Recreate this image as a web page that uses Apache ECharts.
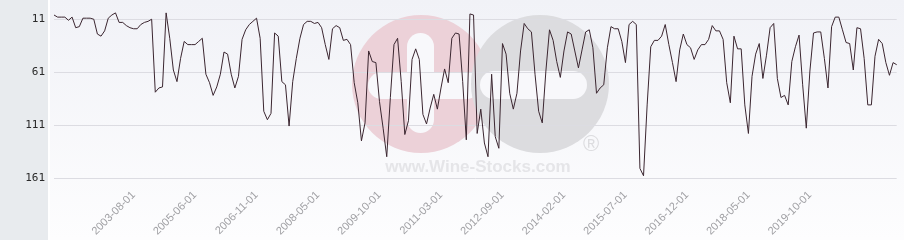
<!DOCTYPE html>
<html><head><meta charset="utf-8">
<script src="https://cdn.jsdelivr.net/npm/echarts@6/dist/echarts.min.js"></script>
<style>html,body{margin:0;padding:0;background:#fff}#c{width:904px;height:240px}</style>
</head><body><div id="c"></div>
<script>
const categories = [
'2001-10-01','2001-11-01','2001-12-01',
'2002-01-01','2002-02-01','2002-03-01','2002-04-01','2002-05-01','2002-06-01','2002-07-01','2002-08-01','2002-09-01','2002-10-01','2002-11-01','2002-12-01',
'2003-01-01','2003-02-01','2003-03-01','2003-04-01','2003-05-01','2003-06-01','2003-07-01','2003-08-01','2003-09-01','2003-10-01','2003-11-01',
'2004-01-01','2004-02-01','2004-04-01','2004-05-01','2004-07-01','2004-08-01','2004-10-01','2004-11-01',
'2005-01-01','2005-02-01','2005-03-01','2005-04-01','2005-05-01','2005-06-01','2005-07-01','2005-08-01','2005-09-01','2005-10-01','2005-11-01','2005-12-01',
'2006-01-01','2006-02-01','2006-03-01','2006-04-01','2006-05-01','2006-06-01','2006-07-01','2006-08-01','2006-09-01','2006-10-01','2006-11-01','2006-12-01',
'2007-01-01','2007-02-01','2007-03-01','2007-04-01','2007-05-01','2007-06-01','2007-07-01','2007-09-01','2007-10-01','2007-11-01','2007-12-01',
'2008-01-01','2008-02-01','2008-03-01','2008-04-01','2008-05-01','2008-06-01','2008-07-01','2008-08-01','2008-09-01','2008-10-01','2008-11-01','2008-12-01',
'2009-01-01','2009-02-01','2009-03-01','2009-04-01','2009-05-01','2009-06-01','2009-07-01','2009-08-01','2009-09-01','2009-10-01','2009-11-01','2009-12-01',
'2010-01-01','2010-02-01','2010-03-01','2010-04-01','2010-05-01','2010-06-01','2010-07-01','2010-08-01','2010-09-01','2010-10-01','2010-11-01','2010-12-01',
'2011-01-01','2011-02-01','2011-03-01','2011-04-01','2011-05-01','2011-06-01','2011-07-01','2011-08-01','2011-09-01','2011-10-01','2011-11-01',
'2012-01-01','2012-02-01','2012-03-01','2012-04-01','2012-05-01','2012-06-01','2012-07-01','2012-08-01','2012-09-01','2012-10-01','2012-11-01','2012-12-01',
'2013-01-01','2013-02-01','2013-03-01','2013-04-01','2013-05-01','2013-06-01','2013-07-01','2013-08-01','2013-09-01','2013-10-01','2013-11-01','2013-12-01',
'2014-01-01','2014-02-01','2014-03-01','2014-04-01','2014-05-01','2014-06-01','2014-07-01','2014-08-01','2014-09-01','2014-10-01','2014-11-01','2014-12-01',
'2015-01-01','2015-02-01','2015-03-01','2015-04-01','2015-05-01','2015-06-01','2015-07-01','2015-08-01','2015-09-01','2015-10-01','2015-11-01','2015-12-01',
'2016-01-01','2016-02-01','2016-03-01','2016-04-01','2016-05-01','2016-06-01','2016-07-01','2016-08-01','2016-09-01','2016-10-01','2016-11-01','2016-12-01',
'2017-01-01','2017-02-01','2017-03-01','2017-04-01','2017-05-01','2017-06-01','2017-07-01','2017-08-01','2017-09-01','2017-10-01','2017-11-01','2017-12-01',
'2018-01-01','2018-02-01','2018-03-01','2018-04-01','2018-05-01','2018-06-01','2018-07-01','2018-08-01','2018-09-01','2018-10-01','2018-11-01','2018-12-01',
'2019-01-01','2019-02-01','2019-03-01','2019-04-01','2019-05-01','2019-06-01','2019-07-01','2019-08-01','2019-09-01','2019-10-01','2019-11-01','2019-12-01',
'2020-01-01','2020-02-01','2020-03-01','2020-04-01','2020-05-01','2020-06-01','2020-07-01','2020-08-01','2020-09-01','2020-10-01','2020-11-01','2020-12-01',
'2021-01-01','2021-02-01','2021-03-01','2021-04-01','2021-05-01','2021-06-01','2021-07-01','2021-08-01','2021-09-01','2021-10-01'
];

const rankValues = [
7, 9, 9, 9, 12, 9, 19, 18, 10, 10,
10, 11, 25, 27, 22, 10, 7, 5, 14, 14,
17, 19, 20, 20, 16, 14, 13, 11, 80, 76,
75, 5, 29, 59, 70, 48, 32, 35, 35, 35,
32, 29, 63, 71, 83, 75, 63, 42, 44, 63,
76, 65, 30, 21, 16, 13, 10, 29, 98, 106,
100, 24, 27, 70, 73, 112, 70, 48, 29, 16,
13, 13, 15, 14, 19, 35, 49, 20, 17, 19,
31, 30, 35, 71, 90, 126, 109, 41, 51, 52,
89, 114, 141, 85, 35, 29, 70, 120, 107, 49,
39, 49, 101, 110, 95, 82, 96, 76, 58, 71,
29, 24, 25, 70, 125, 6, 7, 119, 96, 128,
141, 63, 122, 133, 34, 44, 81, 96, 81, 41,
15, 20, 23, 63, 98, 109, 60, 21, 31, 51,
66, 41, 23, 25, 41, 57, 40, 23, 21, 38,
81, 76, 73, 38, 18, 20, 20, 32, 52, 16,
13, 16, 152, 159, 92, 37, 31, 31, 27, 16,
35, 52, 70, 40, 25, 35, 38, 49, 40, 35,
35, 30, 17, 22, 22, 30, 71, 90, 27, 39,
39, 92, 119, 65, 44, 34, 67, 45, 19, 15,
67, 85, 83, 92, 51, 37, 26, 73, 114, 60,
24, 23, 23, 48, 76, 18, 9, 9, 21, 33,
34, 59, 19, 20, 48, 92, 92, 46, 30, 34,
52, 64, 52, 54
];

const yTickValues = [11, 61, 111, 161];
const xTickLabels = ['2003-08-01','2005-06-01','2006-11-01','2008-05-01','2009-10-01','2011-03-01',
  '2012-09-01','2014-02-01','2015-07-01','2016-12-01','2018-05-01','2019-10-01'];
const watermarkText = 'www.Wine-Stocks.com';

const chart = echarts.init(document.getElementById('c'), null, {renderer: 'canvas'});
chart.setOption({
  animation: false,
  graphic: [
    {type: 'rect', z: -20, silent: true, shape: {x: 0, y: 0, width: 48, height: 240}, style: {fill: '#e8ebee'}},
    {type: 'rect', z: -20, silent: true, shape: {x: 50, y: 0, width: 854, height: 240},
      style: {fill: new echarts.graphic.LinearGradient(0, 0, 0, 1, [
        {offset: 0, color: '#f1f2f7'}, {offset: 1, color: '#fdfdfe'}])}},
    {type: 'circle', z: -10, silent: true, shape: {cx: 421, cy: 84, r: 69}, style: {fill: '#ecd1d8'}},
    {type: 'rect', z: -9, silent: true, shape: {x: 368, y: 72, width: 112, height: 27, r: 13.5}, style: {fill: '#f8f8fb'}},
    {type: 'rect', z: -9, silent: true, shape: {x: 407, y: 33, width: 27, height: 100, r: 13.5}, style: {fill: '#f8f8fb'}},
    {type: 'circle', z: -8, silent: true, shape: {cx: 540, cy: 84, r: 69}, style: {fill: '#dcdcdf'}},
    {type: 'rect', z: -7, silent: true, shape: {x: 480, y: 71, width: 107, height: 28, r: 14}, style: {fill: '#f8f8fb'}},
    {type: 'text', z: -7, silent: true, x: 478, y: 167,
      style: {text: watermarkText, fill: '#e5e5e8', font: 'bold 17px "Liberation Sans", Arial, sans-serif', align: 'center', verticalAlign: 'middle'}},
    {type: 'text', z: -7, silent: true, x: 591, y: 145,
      style: {text: '®', fill: '#dcdcdf', font: '22px "Liberation Sans", Arial, sans-serif', align: 'center', verticalAlign: 'middle'}}
  ],
  grid: {left: 54, right: 7.3, top: 7.6, bottom: 52.6, containLabel: false},
  xAxis: {
    type: 'category', data: categories, boundaryGap: false,
    axisLine: {show: false}, axisTick: {show: false}, splitLine: {show: false},
    axisLabel: {
      rotate: 45, margin: 6, color: '#a0a0a4', fontSize: 11,
      fontFamily: '"Liberation Sans", Arial, sans-serif',
      interval: function (idx, val) { return xTickLabels.indexOf(val) >= 0; }
    }
  },
  yAxis: {
    type: 'value', inverse: true, min: 0, max: 170,
    axisLine: {show: false},
    axisTick: {show: false, customValues: yTickValues},
    axisLabel: {customValues: yTickValues, color: '#2a2a2a', fontSize: 11, margin: 9,
      fontFamily: '"DejaVu Sans Mono", monospace'},
    splitLine: {show: true, lineStyle: {color: '#dcdce2', width: 1}}
  },
  series: [{
    type: 'line', data: rankValues, symbol: 'none', z: 5,
    lineStyle: {color: '#3b2630', width: 1}
  }]
});
</script></body></html>
